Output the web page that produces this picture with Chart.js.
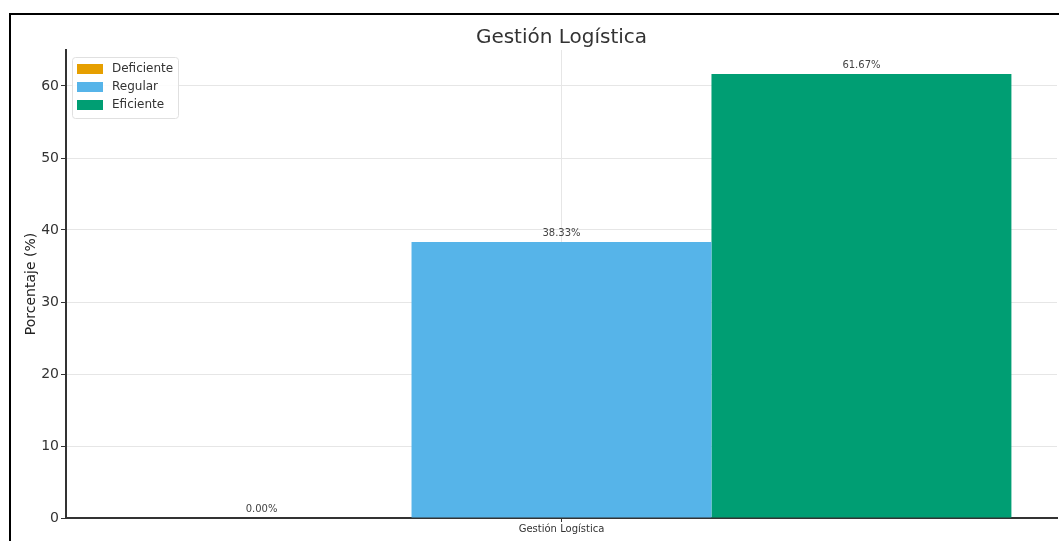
<!DOCTYPE html>
<html>
<head>
<meta charset="utf-8">
<script src="https://cdn.jsdelivr.net/npm/chart.js@4/dist/chart.umd.min.js"></script>
<style>
  html, body { margin: 0; padding: 0; background: #fff; }
  #wrap { position: relative; width: 1059px; height: 541px; overflow: hidden; }
</style>
</head>
<body>
<div id="wrap"><canvas id="chart" width="1059" height="541"></canvas></div>
<script>
const categories = ['Gestión Logística'];
const levels = ['Deficiente', 'Regular', 'Eficiente'];
const percentages = [0.00, 38.33, 61.67];
const colors = ['#E69F00', '#56B4E9', '#009E73'];
const yTicks = [0, 10, 20, 30, 40, 50, 60];
const chartTitle = 'Gestión Logística';

const FONT = "'DejaVu Sans', 'Liberation Sans', sans-serif";

// frame around the whole figure
const framePlugin = {
  id: 'frame',
  afterDraw(chart) {
    const ctx = chart.ctx;
    ctx.save();
    ctx.strokeStyle = '#000';
    ctx.lineWidth = 2;
    ctx.strokeRect(10, 14, chart.width + 40, chart.height + 40);
    ctx.restore();
  }
};

// title centred over the plot area rather than the whole canvas
const axesTitle = {
  id: 'axesTitle',
  afterDraw(chart) {
    const ctx = chart.ctx;
    const area = chart.chartArea;
    ctx.save();
    ctx.font = '20px ' + FONT;
    ctx.fillStyle = '#333';
    ctx.textAlign = 'center';
    ctx.textBaseline = 'middle';
    ctx.fillText(chartTitle, (area.left + area.right) / 2, 38);
    ctx.restore();
  }
};

// value labels on top of each bar
const valueLabels = {
  id: 'valueLabels',
  afterDatasetsDraw(chart) {
    const ctx = chart.ctx;
    ctx.save();
    ctx.font = '10px ' + FONT;
    ctx.fillStyle = '#444';
    ctx.textAlign = 'center';
    ctx.textBaseline = 'bottom';
    chart.data.datasets.forEach((ds, i) => {
      chart.getDatasetMeta(i).data.forEach((bar, j) => {
        ctx.fillText(ds.data[j].toFixed(2) + '%', bar.x, bar.y - 4);
      });
    });
    ctx.restore();
  }
};

// legend box in the upper-left corner of the plot
const innerLegend = {
  id: 'innerLegend',
  afterDraw(chart) {
    const ctx = chart.ctx;
    const area = chart.chartArea;
    const x = area.left + 6, y = area.top + 7;
    const rowH = 18, w = 106, h = 61;
    ctx.save();
    ctx.fillStyle = 'rgba(255,255,255,0.85)';
    ctx.strokeStyle = '#e0e0e0';
    ctx.lineWidth = 1;
    ctx.beginPath();
    ctx.roundRect(x + 0.5, y + 0.5, w, h, 3);
    ctx.fill();
    ctx.stroke();
    ctx.font = '12px ' + FONT;
    ctx.textBaseline = 'middle';
    ctx.textAlign = 'left';
    chart.data.datasets.forEach((ds, i) => {
      const cy = y + 12 + i * rowH;
      ctx.fillStyle = ds.backgroundColor;
      ctx.fillRect(x + 5, cy - 5, 26, 10);
      ctx.fillStyle = '#333';
      ctx.fillText(ds.label, x + 40, cy);
    });
    ctx.restore();
  }
};

new Chart(document.getElementById('chart'), {
  type: 'bar',
  data: {
    labels: categories,
    datasets: levels.map((name, i) => ({
      label: name,
      data: [percentages[i]],
      backgroundColor: colors[i],
      borderWidth: 0,
      categoryPercentage: 0.908,
      barPercentage: 1.0
    }))
  },
  options: {
    responsive: false,
    animation: false,
    layout: { padding: { left: 0, right: 2, top: 50, bottom: 0 } },
    plugins: {
      legend: { display: false },
      tooltip: { enabled: false },
      title: { display: false }
    },
    scales: {
      x: {
        grid: {
          offset: false,
          color: '#e6e6e6',
          drawTicks: true,
          tickLength: 4,
          tickColor: '#333'
        },
        border: { color: '#333', width: 2 },
        ticks: { color: '#333', font: { family: FONT, size: 10 }, padding: 1 },
        afterFit(scale) { scale.height = 23; }
      },
      y: {
        min: 0,
        max: 65,
        grid: {
          color: '#e6e6e6',
          tickLength: 5,
          tickColor: '#333'
        },
        border: { color: '#333', width: 2 },
        afterBuildTicks(scale) {
          scale.ticks = yTicks.map(v => ({ value: v }));
        },
        ticks: {
          color: '#333',
          font: { family: FONT, size: 14 },
          padding: 2
        },
        title: {
          display: true,
          text: 'Porcentaje (%)',
          color: '#222',
          font: { family: FONT, size: 14 },
          padding: { top: 23, bottom: 0 }
        },
        afterFit(scale) { scale.width = 66; }
      }
    }
  },
  plugins: [valueLabels, innerLegend, axesTitle, framePlugin]
});
</script>
</body>
</html>
